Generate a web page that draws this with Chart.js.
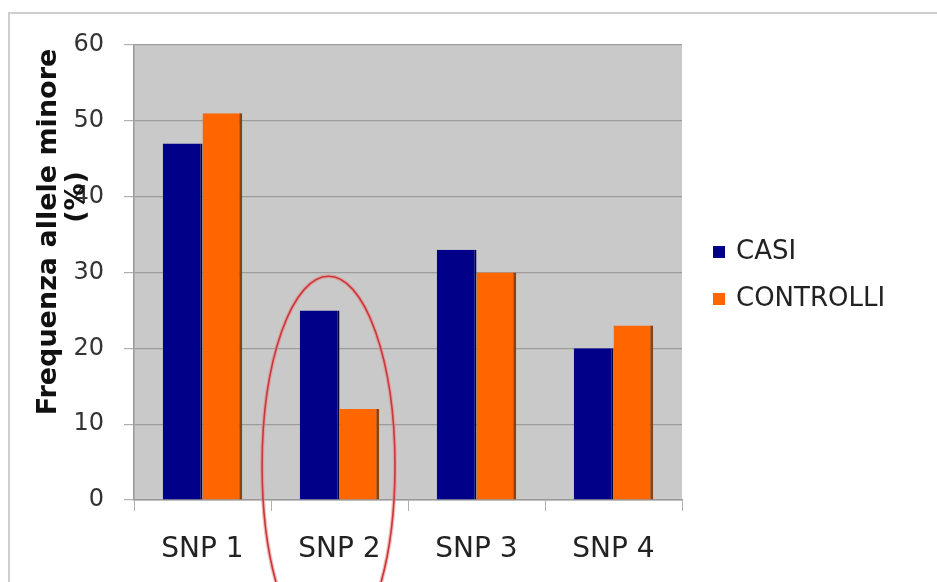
<!DOCTYPE html>
<html>
<head>
<meta charset="utf-8">
<script src="https://cdn.jsdelivr.net/npm/chart.js@4"></script>
<style>
  html, body { margin: 0; padding: 0; background: #fff; }
  #wrap { position: relative; width: 937px; height: 582px; overflow: hidden; }
  #frame { position: absolute; left: 8px; top: 12px; width: 2000px; height: 2000px;
           border-top: 2px solid #cfcfcf; border-left: 2px solid #cfcfcf; }
  #chart { position: absolute; left: 0; top: 0; }
</style>
</head>
<body>
<div id="wrap">
  <div id="frame"></div>
  <canvas id="chart" width="937" height="582"></canvas>
</div>
<script>
// dati
const snpLabels = ['SNP 1', 'SNP 2', 'SNP 3', 'SNP 4'];
const casi = [47, 25, 33, 20];
const controlli = [51, 12, 30, 23];
const yTicks = [0, 10, 20, 30, 40, 50, 60];
const axisTitle = ['Frequenza allele minore', '(%)'];

// sfondo grigio dell'area del grafico
const plotBg = {
  id: 'plotBg',
  beforeDraw(chart) {
    const a = chart.chartArea;
    const ctx = chart.ctx;
    ctx.save();
    ctx.fillStyle = '#c9c9c9';
    ctx.fillRect(a.left, a.top, a.right - a.left, a.bottom - a.top);
    ctx.restore();
  }
};

// titolo asse y su due righe
function drawRotated(ctx, text, x, y) {
  ctx.save();
  ctx.font = 'bold 27px "DejaVu Sans"';
  ctx.fillStyle = '#111';
  ctx.textAlign = 'center';
  ctx.textBaseline = 'middle';
  ctx.translate(x, y);
  ctx.rotate(-Math.PI / 2);
  ctx.fillText(text, 0, 0);
  ctx.restore();
}

const yTitle = {
  id: 'yTitle',
  afterDraw(chart) {
    drawRotated(chart.ctx, axisTitle[0], 49, 232);
    drawRotated(chart.ctx, axisTitle[1], 77, 197);
  }
};

// legenda a destra
const sideLegend = {
  id: 'sideLegend',
  afterDraw(chart) {
    const ctx = chart.ctx;
    ctx.save();
    ctx.font = '26px "DejaVu Sans"';
    ctx.textBaseline = 'middle';
    chart.data.datasets.forEach((ds, i) => {
      const y = 252 + i * 47;
      ctx.fillStyle = ds.backgroundColor;
      ctx.fillRect(713, y - 6, 12, 12);
      ctx.fillStyle = '#222';
      ctx.fillText(ds.label, 736, y);
    });
    ctx.restore();
  }
};

// ellisse rossa intorno a SNP 2
const ellipse = {
  id: 'ellipse',
  afterDatasetsDraw(chart, args, opts) {
    const x = chart.scales.x, y = chart.scales.y;
    const idx = snpLabels.indexOf(opts.category);
    const step = x.getPixelForValue(1) - x.getPixelForValue(0);
    const cx = x.getPixelForValue(idx) + opts.dx * step;
    const cy = y.getPixelForValue(opts.cy);
    const rx = opts.rx * step;
    const ry = y.getPixelForValue(0) - y.getPixelForValue(opts.ry);
    const ctx = chart.ctx;
    ctx.save();
    ctx.beginPath();
    ctx.ellipse(cx, cy, rx, ry, 0, 0, Math.PI * 2);
    ctx.strokeStyle = 'rgba(230,140,140,0.6)';
    ctx.lineWidth = 4;
    ctx.stroke();
    ctx.strokeStyle = '#c8383a';
    ctx.lineWidth = 1.6;
    ctx.stroke();
    ctx.restore();
  }
};

new Chart(document.getElementById('chart'), {
  type: 'bar',
  data: {
    labels: snpLabels,
    datasets: [
      {
        label: 'CASI',
        data: casi,
        backgroundColor: '#000088',
        borderColor: '#00003a',
        borderWidth: { right: 2, top: 0, left: 0, bottom: 0 },
        borderSkipped: false
      },
      {
        label: 'CONTROLLI',
        data: controlli,
        backgroundColor: '#ff6600',
        borderColor: '#8a4210',
        borderWidth: { right: 3, top: 0, left: 0, bottom: 0 },
        borderSkipped: false
      }
    ]
  },
  options: {
    responsive: false,
    animation: false,
    layout: { padding: { left: 0, top: 45, right: 255, bottom: 0 } },
    datasets: { bar: { categoryPercentage: 0.58, barPercentage: 1 } },
    plugins: {
      legend: { display: false },
      tooltip: { enabled: false },
      ellipse: { category: 'SNP 2', dx: -0.08, cy: 4.5, rx: 0.485, ry: 25 }
    },
    scales: {
      x: {
        afterFit(s) { s.height = 82; },
        grid: {
          offset: true,
          drawOnChartArea: false,
          drawTicks: true,
          tickLength: 11,
          tickColor: '#b0b0b0'
        },
        border: { color: '#999', width: 1.5 },
        ticks: {
          color: '#222',
          padding: 22,
          maxRotation: 0,
          autoSkip: false,
          font: { family: 'DejaVu Sans', size: 28 }
        }
      },
      y: {
        min: 0,
        max: 60,
        afterFit(s) { s.width = 134; },
        afterBuildTicks(s) { s.ticks = yTicks.map(v => ({ value: v })); },
        grid: {
          color: '#9c9c9c',
          tickColor: '#b0b0b0',
          tickLength: 10,
          lineWidth: 1.2
        },
        border: { color: '#999', width: 1.5 },
        ticks: {
          color: '#333',
          padding: 20,
          font: { family: 'DejaVu Sans', size: 24 }
        }
      }
    }
  },
  plugins: [plotBg, ellipse, yTitle, sideLegend]
});
</script>
</body>
</html>
